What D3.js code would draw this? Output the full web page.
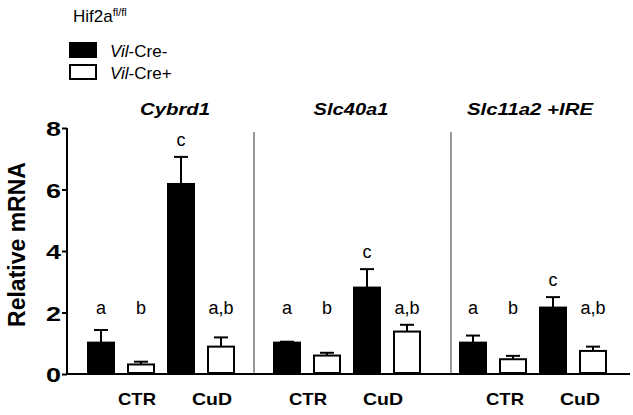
<!DOCTYPE html>
<html><head><meta charset="utf-8">
<script src="https://cdn.jsdelivr.net/npm/d3@7"></script>
<style>body{margin:0;background:#fff}svg{display:block;font-family:"Liberation Sans",Arial,Helvetica,sans-serif}</style>
</head><body>
<svg id="c" width="633" height="415"></svg>
<script>
const genes = ["Cybrd1", "Slc40a1", "Slc11a2 +IRE"];
const conditions = ["CTR", "CuD"];
const genotypes = ["Vil-Cre-", "Vil-Cre+"];
// order per gene: CTR Cre-, CTR Cre+, CuD Cre-, CuD Cre+
const means = [
  [1.02, 0.31, 6.18, 0.89],
  [1.02, 0.60, 2.81, 1.38],
  [1.02, 0.48, 2.16, 0.75]
];
const sems = [
  [0.41, 0.09, 0.88, 0.30],
  [0.03, 0.09, 0.60, 0.22],
  [0.23, 0.11, 0.34, 0.14]
];
const letters = [
  ["a", "b", "c", "a,b"],
  ["a", "b", "c", "a,b"],
  ["a", "b", "c", "a,b"]
];
const yTicks = [0, 2, 4, 6, 8];

const svg = d3.select("#c");
const y = d3.scaleLinear().domain([0, 8]).range([374, 128]);
const panel = d3.scaleBand().domain(genes).range([81, 81 + 186 * 3]);
const bar = d3.scaleBand().domain([0, 1, 2, 3]).range([0, 160]).paddingInner(0.3).paddingOuter(0.15);
const bw = bar.bandwidth();

// legend
const lg = svg.append("g");
const ht = lg.append("text").attr("x", 73).attr("y", 22).attr("font-size", 17);
ht.append("tspan").text("Hif2a");
ht.append("tspan").attr("font-size", 11).attr("dy", -6).text("fl/fl");
genotypes.forEach((g, i) => {
  const yy = 42 + i * 22;
  lg.append("rect").attr("x", 70).attr("y", yy + 1).attr("width", 26).attr("height", 14)
    .attr("fill", i === 0 ? "#000" : "#fff").attr("stroke", "#000").attr("stroke-width", 2);
  const t = lg.append("text").attr("x", 110).attr("y", yy + 15).attr("font-size", 17);
  t.append("tspan").attr("font-style", "italic").text(g.slice(0, 3));
  t.append("tspan").text(g.slice(3));
});

// y axis
const yAxis = svg.append("g").attr("transform", "translate(67,0)")
  .call(d3.axisLeft(y).tickValues(yTicks).tickSize(5).tickPadding(1).tickFormat(d3.format("d")));
yAxis.select(".domain").attr("stroke-width", 2).attr("d", `M-0,${y(8)}V${y(0)}`);
yAxis.selectAll(".tick line").attr("stroke-width", 2);
yAxis.selectAll(".tick text").attr("font-size", 21).attr("font-weight", "bold")
  .attr("font-family", "Liberation Sans, Arial, sans-serif").attr("fill", "#000")
  .attr("dy", "0.36em").attr("textLength", 15).attr("lengthAdjust", "spacingAndGlyphs");

svg.append("text").attr("transform", `translate(25,${(162 + 327) / 2}) rotate(-90)`)
  .attr("text-anchor", "middle").attr("font-size", 23).attr("font-weight", "bold").text("Relative mRNA");

// x axis line
svg.append("line").attr("x1", 66).attr("x2", 630).attr("y1", y(0)).attr("y2", y(0))
  .attr("stroke", "#000").attr("stroke-width", 2);

// separators
const sepOff = [19, 8];
genes.slice(1).forEach((g, i) => {
  const sx = panel(g) + bar(0) - sepOff[i];
  svg.append("line").attr("x1", sx).attr("x2", sx).attr("y1", 132).attr("y2", y(0))
    .attr("stroke", "#333").attr("stroke-width", 1);
});

const titleShift = [14, 4, -3];
const labelShift = [36, 21, 32];
const titleLen = [70, 75, 126];

genes.forEach((g, gi) => {
  const px = panel(g);
  const gg = svg.append("g");
  const center = px + (bar(0) + bar(3) + bw) / 2;
  gg.append("text").attr("x", center + titleShift[gi]).attr("y", 115).attr("text-anchor", "middle")
    .attr("font-size", 17).attr("font-weight", "bold").attr("font-style", "italic")
    .attr("textLength", titleLen[gi]).attr("lengthAdjust", "spacingAndGlyphs").text(g);

  means[gi].forEach((m, i) => {
    const x0 = px + bar(i);
    const cx = x0 + bw / 2;
    const top = y(m + sems[gi][i]);
    gg.append("line").attr("x1", cx).attr("x2", cx).attr("y1", y(m)).attr("y2", top)
      .attr("stroke", "#000").attr("stroke-width", 2);
    gg.append("line").attr("x1", cx - 7).attr("x2", cx + 7).attr("y1", top).attr("y2", top)
      .attr("stroke", "#000").attr("stroke-width", 2);
    gg.append("rect").attr("x", x0 + 1).attr("y", y(m)).attr("width", bw - 2).attr("height", y(0) - y(m) - 1)
      .attr("fill", i % 2 === 0 ? "#000" : "#fff").attr("stroke", "#000").attr("stroke-width", 2);
    const ly = Math.min(y(1.95), top - 11);
    gg.append("text").attr("x", cx).attr("y", ly).attr("text-anchor", "middle")
      .attr("font-size", 18).text(letters[gi][i]);
  });

  conditions.forEach((c, ci) => {
    const bx = px + bar(ci * 2) + bw / 2 + labelShift[gi] - ci * 5;
    gg.append("text").attr("x", bx).attr("y", 405).attr("text-anchor", "middle")
      .attr("font-size", 17).attr("font-weight", "bold")
      .attr("textLength", ci === 0 ? 38 : 40).attr("lengthAdjust", "spacingAndGlyphs").text(c);
  });
});
</script>
</body></html>
